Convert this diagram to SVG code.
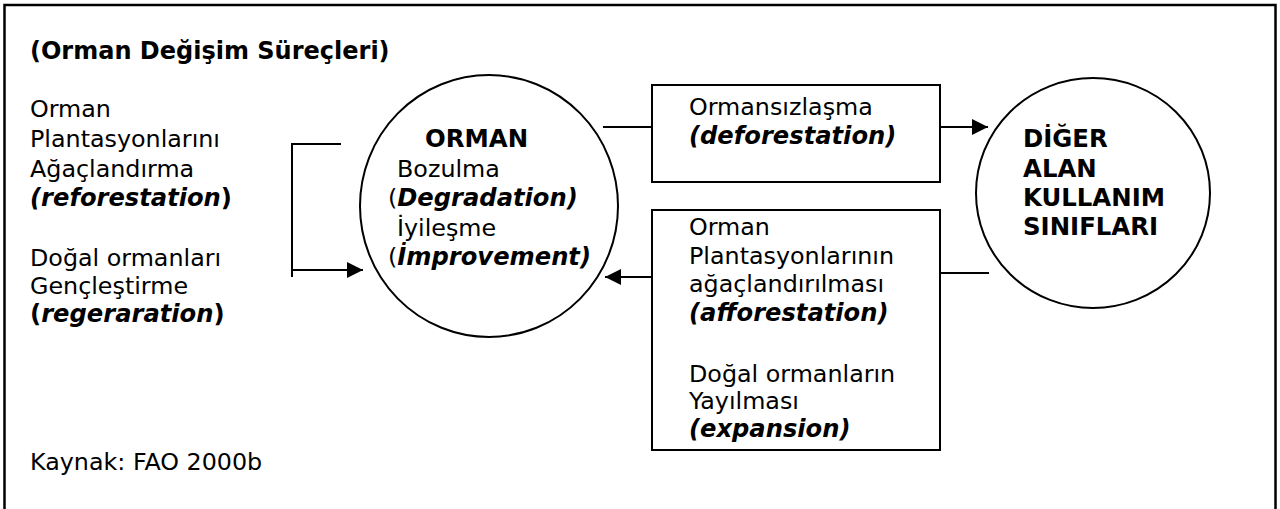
<svg xmlns="http://www.w3.org/2000/svg" width="1280" height="509" viewBox="0 0 1280 509">
  <style>
    text { font-family: "DejaVu Sans", Verdana, sans-serif; font-size: 23.8px; fill: #000; }
    .b { font-weight: bold; font-size: 24.4px; }
    .bi { font-weight: bold; font-style: italic; font-size: 24.2px; }
    .shape { fill: #fff; stroke: #000; stroke-width: 2; }
    .conn line, .conn polyline { stroke: #000; stroke-width: 2; fill: none; }
  </style>
  <defs>
    <marker id="arr" markerUnits="userSpaceOnUse" markerWidth="17" markerHeight="16" refX="16" refY="8" orient="auto">
      <path d="M0,0 L16,8 L0,16 Z" fill="#000"/>
    </marker>
  </defs>
  <rect width="1280" height="509" fill="#fff"/>
  <rect x="4.5" y="5" width="1271" height="520" fill="none" stroke="#000" stroke-width="2.5"/>

  <g id="title">
    <text class="b" x="30" y="59" style="font-size:24px">(Orman Değişim Süreçleri)</text>
  </g>

  <g id="left-text">
    <text x="30" y="117">Orman</text>
    <text x="30" y="147">Plantasyonlarını</text>
    <text x="30" y="177">Ağaçlandırma</text>
    <text x="30" y="206"><tspan class="bi">(reforestation</tspan><tspan class="b">)</tspan></text>
    <text x="30" y="266">Doğal ormanları</text>
    <text x="30" y="294">Gençleştirme</text>
    <text x="30" y="322"><tspan class="b">(</tspan><tspan class="bi">regeraration</tspan><tspan class="b">)</tspan></text>
  </g>

  <g id="source">
    <text x="30" y="470">Kaynak: FAO 2000b</text>
  </g>

  <g id="orman">
    <ellipse class="shape" cx="489" cy="206" rx="129" ry="131" stroke-width="1.8"/>
    <text class="b" x="425" y="147">ORMAN</text>
    <text x="397" y="177">Bozulma</text>
    <text x="388" y="206">(<tspan class="bi">Degradation)</tspan></text>
    <text x="397" y="236">İyileşme</text>
    <text x="388" y="265">(<tspan class="bi">İmprovement)</tspan></text>
  </g>

  <g id="deforestation">
    <rect class="shape" x="652" y="85" width="288" height="97"/>
    <text x="689" y="115">Ormansızlaşma</text>
    <text class="bi" x="689" y="144">(deforestation)</text>
  </g>

  <g id="afforestation">
    <rect class="shape" x="652" y="210" width="288" height="240"/>
    <text x="689" y="235">Orman</text>
    <text x="689" y="263.5">Plantasyonlarının</text>
    <text x="689" y="292">ağaçlandırılması</text>
    <text class="bi" x="689" y="321">(afforestation)</text>
    <text x="689" y="381.5">Doğal ormanların</text>
    <text x="689" y="409">Yayılması</text>
    <text class="bi" x="689" y="436.5">(expansion)</text>
  </g>

  <g id="diger">
    <ellipse class="shape" cx="1093" cy="193" rx="117" ry="115" stroke-width="1.8"/>
    <text class="b" x="1023" y="147">DİĞER</text>
    <text class="b" x="1023" y="177">ALAN</text>
    <text class="b" x="1023" y="206">KULLANIM</text>
    <text class="b" x="1023" y="235">SINIFLARI</text>
  </g>

  <g id="connectors" class="conn">
    <polyline points="341,144 292,144 292,277"/>
    <line x1="292" y1="270" x2="363" y2="270" marker-end="url(#arr)"/>
    <line x1="603" y1="127" x2="652" y2="127"/>
    <line x1="940" y1="127" x2="988" y2="127" marker-end="url(#arr)"/>
    <line x1="989" y1="273" x2="940" y2="273"/>
    <line x1="652" y1="277" x2="605" y2="277" marker-end="url(#arr)"/>
  </g>
</svg>
